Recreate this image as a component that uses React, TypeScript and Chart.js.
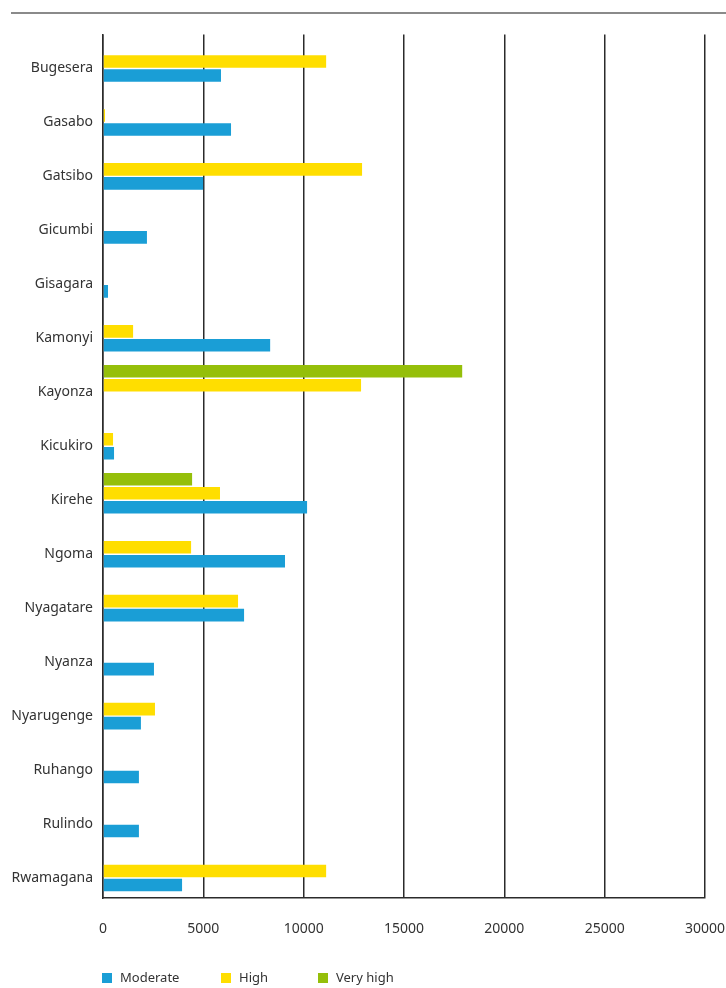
import React, { useEffect, useRef } from "react";
import { Chart, registerables } from "chart.js";

Chart.register(...registerables);

const categories = [
  "Bugesera", "Gasabo", "Gatsibo", "Gicumbi", "Gisagara", "Kamonyi", "Kayonza", "Kicukiro",
  "Kirehe", "Ngoma", "Nyagatare", "Nyanza", "Nyarugenge", "Ruhango", "Rulindo", "Rwamagana",
];
const moderate = [5880, 6380, 4990, 2190, 250, 8330, 0, 550, 10170, 9070, 7030, 2540, 1890, 1790, 1790, 3940];
const high = [11120, 100, 12910, 0, 0, 1500, 12860, 500, 5830, 4390, 6730, 0, 2590, 0, 0, 11120];
const veryHigh = [0, 0, 40, 0, 0, 0, 17900, 0, 4440, 0, 0, 0, 0, 0, 0, 0];
const seriesNames = ["Moderate", "High", "Very high"];
const xMin = 0;
const xMax = 30000;
const xStep = 5000;

const BLUE = "#1a9ed6";
const YELLOW = "#ffde00";
const GREEN = "#95bf0a";
const TEXT = "#333333";
const GRID = "#2b2b2b";
const FONT = "'Noto Sans', 'DejaVu Sans', sans-serif";

const topLinePlugin = {
  id: "topLine",
  beforeDraw(chart: any) {
    const ctx = chart.ctx;
    ctx.save();
    ctx.strokeStyle = "#8a8a8a";
    ctx.lineWidth = 2;
    ctx.beginPath();
    ctx.moveTo(11, 13);
    ctx.lineTo(chart.width, 13);
    ctx.stroke();
    ctx.restore();
  },
};

const legendPlugin = {
  id: "customLegend",
  afterDraw(chart: any, _args: any, opts: any) {
    const ctx = chart.ctx;
    const ds = chart.data.datasets;
    const order = [2, 1, 0];
    const xs: number[] = opts.xs;
    ctx.save();
    ctx.font = `13px ${FONT}`;
    ctx.textBaseline = "middle";
    ctx.textAlign = "left";
    order.forEach((di, i) => {
      const x = xs[i];
      const y = opts.y;
      ctx.fillStyle = ds[di].backgroundColor;
      ctx.fillRect(x, y - 5, 10, 10);
      ctx.fillStyle = TEXT;
      ctx.fillText(ds[di].label, x + 18, y);
    });
    ctx.restore();
  },
};

export default function App() {
  const ref = useRef<HTMLCanvasElement | null>(null);
  useEffect(() => {
    if (!ref.current) return;
    const chart = new Chart(ref.current, {
      type: "bar",
      data: {
        labels: categories,
        datasets: [
          { label: seriesNames[2], data: veryHigh, backgroundColor: GREEN },
          { label: seriesNames[1], data: high, backgroundColor: YELLOW },
          { label: seriesNames[0], data: moderate, backgroundColor: BLUE },
        ],
      },
      plugins: [topLinePlugin, legendPlugin],
      options: {
        indexAxis: "y",
        responsive: false,
        animation: false,
        maintainAspectRatio: false,
        datasets: { bar: { categoryPercentage: 0.778, barPercentage: 0.9 } },
        layout: { padding: { top: 34.5, right: 21, bottom: 50, left: 0 } },
        plugins: {
          legend: { display: false },
          tooltip: { enabled: false },
          customLegend: { xs: [102, 221, 318], y: 978 },
        } as any,
        scales: {
          x: {
            min: xMin,
            max: xMax,
            ticks: {
              stepSize: xStep,
              font: { family: FONT, size: 14 },
              color: TEXT,
              padding: 23,
              callback: (v: any) => String(v),
            },
            grid: { color: GRID, lineWidth: 1.5, drawTicks: false },
            border: { display: true, color: GRID, width: 1.5 },
            afterFit: (s: any) => { s.height = 40; s.paddingRight = 0; s.paddingLeft = 0; },
          },
          y: {
            ticks: { font: { family: FONT, size: 14 }, color: TEXT, padding: 10, labelOffset: 7, autoSkip: false },
            grid: { display: false, drawTicks: false },
            border: { display: true, color: GRID, width: 1.5 },
            afterFit: (s: any) => { s.width = 103; },
          },
        },
      },
    });
    return () => chart.destroy();
  }, []);
  return (
    <div style={{ position: "absolute", left: 0, top: 0, width: 726, height: 988, background: "#fff" }}>
      <canvas ref={ref} width={726} height={988} style={{ width: 726, height: 988, display: "block" }} />
    </div>
  );
}
